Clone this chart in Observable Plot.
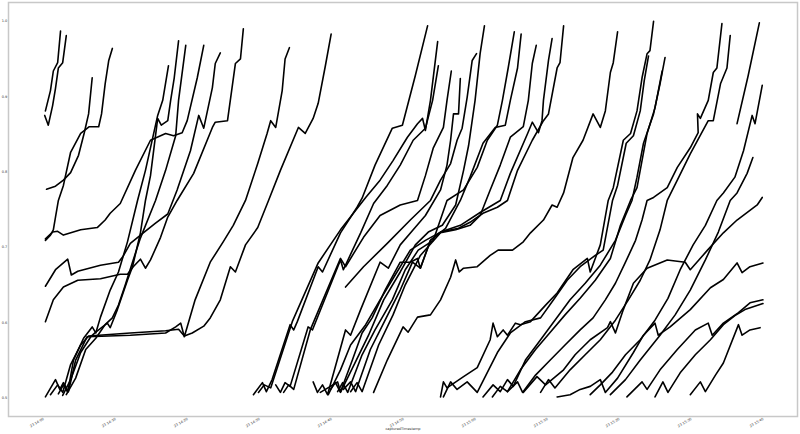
<!DOCTYPE html>
<html><head><meta charset="utf-8">
<script src="https://cdn.jsdelivr.net/npm/d3@7"></script>
<script src="https://cdn.jsdelivr.net/npm/@observablehq/plot@0.6"></script>
<style>body{margin:0;background:#fff}#chart svg{display:block}</style>
</head><body><div id="chart"></div>
<script>
const yTicks = [0.5, 0.6, 0.7, 0.8, 0.9, 1.0];
const xTicks = [0, 10, 20, 30, 40, 50, 60, 70, 80, 90, 100];
const xTickLabels = ["23 14:00","23 14:10","23 14:20","23 14:30","23 14:40","23 14:50","23 15:00","23 15:10","23 15:20","23 15:30","23 15:40"];
const xTitle = "capturedTimestamp";

const s01 = [[1.1,0.881],[1.8,0.908],[2.2,0.934],[2.8,0.945],[3.2,0.987]];
const s02 = [[1.0,0.875],[1.5,0.862],[2.1,0.888],[2.5,0.911],[2.9,0.938],[3.5,0.945],[4.0,0.981]];
const s03 = [[1.25,0.777],[2.5,0.781],[3.6,0.789],[4.6,0.799],[5.7,0.822],[6.5,0.852],[7.1,0.877],[7.6,0.925]];
const s04 = [[1.1,0.709],[1.8,0.716],[2.2,0.723],[2.5,0.740],[2.9,0.762],[3.6,0.782],[4.6,0.826],[6.0,0.851],[7.2,0.860],[8.5,0.860],[8.9,0.877],[9.4,0.917],[9.9,0.948],[10.4,0.964]];
const s05 = [[1.1,0.711],[2.1,0.720],[2.8,0.721],[3.6,0.716],[6.0,0.723],[8.3,0.726],[9.4,0.736],[10.1,0.745],[11.5,0.758],[13.6,0.802],[15.7,0.842],[17.8,0.851],[18.9,0.848],[20.1,0.852],[20.8,0.868],[22.2,0.925],[23.1,0.968]];
const s06 = [[1.1,0.648],[2.5,0.670],[4.2,0.684],[4.7,0.663],[5.6,0.668],[8.75,0.676],[11.25,0.680],[11.9,0.688],[12.9,0.705],[14.7,0.719],[16.4,0.732],[18.1,0.744],[19.4,0.776],[21.25,0.828],[22.4,0.875],[23.1,0.858],[24.3,0.912],[24.7,0.944],[25.4,0.958]];
const s07 = [[1.1,0.601],[2.2,0.630],[3.6,0.647],[5.6,0.656],[8.75,0.658],[11.5,0.664],[12.5,0.664],[13.3,0.674],[14.3,0.684],[15.0,0.672],[15.7,0.683],[17.1,0.713],[18.1,0.740],[19.4,0.762],[21.7,0.798],[24.3,0.859],[24.7,0.866],[26.4,0.868],[27.5,0.944],[28.2,0.950],[28.6,0.990]];
const s08 = [[1.1,0.501],[2.5,0.524],[3.1,0.511],[3.6,0.520],[4.3,0.508],[5.3,0.550],[6.9,0.581],[12.9,0.583],[17.8,0.586],[19.2,0.594],[19.9,0.599],[20.4,0.581],[21.9,0.630],[24.0,0.680],[25.8,0.707],[27.2,0.729],[28.9,0.762],[30.6,0.811],[31.9,0.851],[32.4,0.868],[33.1,0.859],[34.0,0.908],[34.4,0.950],[35.0,0.965]];
const s09 = [[1.8,0.504],[2.8,0.517],[3.5,0.507],[4.6,0.544],[6.0,0.570],[7.1,0.582],[12.9,0.586],[17.8,0.589],[19.6,0.591],[20.4,0.582],[21.5,0.586],[23.1,0.595],[24.0,0.606],[25.4,0.630],[26.8,0.674],[27.5,0.667],[28.9,0.703],[30.6,0.726],[32.1,0.762],[33.75,0.802],[36.25,0.859],[37.2,0.851],[38.3,0.871],[39.0,0.891],[40.0,0.941],[40.8,0.983]];
const s10 = [[2.9,0.505],[3.6,0.517],[4.2,0.507],[5.0,0.550],[6.4,0.579],[7.6,0.594],[8.1,0.586],[8.75,0.607],[10.1,0.643],[11.25,0.667],[12.5,0.707],[13.9,0.762],[15.0,0.802],[16.7,0.875],[17.4,0.895],[18.2,0.941]];
const s11 = [[3.5,0.503],[4.6,0.524],[6.0,0.560],[7.4,0.581],[8.1,0.587],[9.7,0.599],[10.1,0.593],[11.1,0.617],[12.5,0.656],[13.2,0.674],[14.3,0.719],[15.0,0.762],[15.7,0.795],[16.7,0.871],[17.2,0.862],[18.1,0.868],[18.5,0.895],[19.0,0.925],[19.6,0.974]];
const s12 = [[4.0,0.504],[5.3,0.526],[6.7,0.564],[8.1,0.579],[9.4,0.597],[10.4,0.606],[11.25,0.623],[12.2,0.650],[13.3,0.683],[14.3,0.712],[16.4,0.762],[17.8,0.802],[19.2,0.848],[19.6,0.895],[20.6,0.968]];
const s13 = [[30.0,0.504],[31.25,0.520],[31.8,0.508],[32.6,0.524],[35.1,0.597],[35.6,0.590],[36.1,0.601],[39.0,0.674],[39.6,0.667],[42.1,0.719],[44.4,0.753],[45.1,0.765],[46.9,0.809],[49.3,0.858],[50.7,0.862],[52.5,0.928],[54.2,0.994]];
const s14 = [[30.7,0.507],[31.5,0.517],[32.4,0.513],[35.4,0.601],[39.0,0.679],[42.1,0.723],[45.6,0.766],[47.6,0.789],[49.4,0.815],[51.4,0.846],[52.8,0.864],[53.5,0.871],[53.9,0.855],[54.6,0.895],[55.6,0.973]];
const s15 = [[33.1,0.517],[33.75,0.507],[34.4,0.520],[35.1,0.515],[37.6,0.594],[38.2,0.590],[42.1,0.683],[42.5,0.670],[44.9,0.719],[46.7,0.758],[48.6,0.782],[50.4,0.809],[52.2,0.842],[53.9,0.858],[54.9,0.895],[55.7,0.941]];
const s16 = [[34.2,0.507],[34.9,0.517],[35.6,0.511],[37.9,0.590],[42.1,0.685],[42.8,0.674],[45.3,0.713],[47.6,0.742],[50.4,0.756],[52.8,0.762],[53.9,0.795],[55.0,0.832],[56.4,0.859],[56.9,0.895],[57.5,0.934]];
const s17 = [[38.3,0.521],[38.9,0.507],[39.6,0.517],[40.3,0.504],[42.8,0.590],[43.5,0.583],[44.9,0.617],[47.6,0.680],[48.75,0.672],[50.4,0.703],[52.2,0.723],[53.9,0.742],[56.0,0.776],[56.9,0.809],[57.4,0.842],[57.8,0.877],[58.5,0.877],[58.75,0.924]];
const s18 = [[39.3,0.507],[40.7,0.515],[41.7,0.521],[42.1,0.508],[43.75,0.550],[45.1,0.586],[46.5,0.606],[48.3,0.643],[50.4,0.680],[51.8,0.680],[52.8,0.685],[53.2,0.672],[54.6,0.709],[56.0,0.720],[58.5,0.725],[60.1,0.733],[61.9,0.745],[63.9,0.753],[65.3,0.762],[66.7,0.802],[68.75,0.842],[70.3,0.868],[71.0,0.877],[72.2,0.938],[72.6,0.945],[73.1,0.994]];
const s19 = [[40.7,0.511],[41.4,0.520],[42.1,0.507],[44.2,0.548],[46.0,0.583],[48.1,0.630],[50.4,0.667],[52.5,0.703],[54.3,0.720],[56.25,0.729],[58.1,0.756],[59.2,0.802],[59.9,0.835],[60.8,0.895],[61.5,0.957],[62.1,0.994]];
const s20 = [[41.7,0.508],[42.4,0.520],[43.1,0.507],[45.1,0.557],[46.9,0.590],[49.3,0.630],[51.1,0.670],[52.9,0.696],[55.0,0.709],[56.9,0.762],[59.2,0.776],[61.1,0.806],[62.5,0.842],[63.9,0.862],[64.6,0.895],[65.4,0.938],[66.25,0.986]];
const s21 = [[42.5,0.511],[43.5,0.521],[44.2,0.508],[46.25,0.564],[48.3,0.603],[50.4,0.643],[52.1,0.680],[53.2,0.672],[54.6,0.709],[56.7,0.725],[58.75,0.762],[60.1,0.793],[61.9,0.838],[63.6,0.859],[65.0,0.862],[65.7,0.895],[66.7,0.938],[67.2,0.983]];
const s22 = [[43.5,0.508],[44.4,0.520],[45.1,0.508],[47.4,0.570],[49.4,0.610],[51.1,0.650],[53.2,0.689],[56.0,0.719],[58.1,0.723],[60.1,0.729],[61.5,0.742],[62.9,0.776],[64.3,0.809],[65.7,0.846],[67.5,0.860],[68.2,0.895],[68.75,0.944],[69.3,0.968]];
const s23 = [[40.4,0.504],[42.1,0.537],[43.5,0.570],[45.6,0.597],[47.6,0.630],[49.7,0.663],[51.8,0.696],[53.9,0.709],[56.0,0.720],[58.75,0.729],[61.5,0.746],[64.3,0.762],[65.7,0.798],[68.1,0.851],[68.75,0.866],[69.6,0.852],[70.1,0.868],[70.3,0.895],[71.0,0.948],[71.5,0.977]];
const s24 = [[42.8,0.647],[45.3,0.674],[48.6,0.705],[51.8,0.736],[54.6,0.762],[56.0,0.789],[57.4,0.811],[58.3,0.842],[59.0,0.858],[59.7,0.899],[60.4,0.948],[61.0,0.957]];
const s25 = [[46.7,0.507],[48.6,0.550],[50.8,0.594],[51.5,0.587],[52.8,0.607],[54.6,0.610],[56.0,0.630],[57.4,0.660],[58.1,0.683],[58.6,0.667],[59.2,0.672],[61.1,0.674],[62.9,0.689],[64.0,0.696],[66.0,0.696],[67.5,0.707],[68.5,0.719],[70.3,0.736],[71.5,0.756],[72.2,0.753],[73.1,0.772],[74.4,0.819],[75.8,0.842],[77.2,0.877],[78.2,0.859],[78.9,0.881],[79.6,0.932],[80.0,0.945],[80.6,0.986]];
const s26 = [[56.0,0.501],[56.4,0.521],[56.9,0.513],[59.2,0.528],[61.1,0.540],[62.9,0.577],[63.3,0.599],[63.9,0.581],[64.7,0.590],[65.3,0.583],[66.4,0.599],[67.1,0.597],[68.5,0.601],[70.6,0.623],[72.2,0.639],[74.4,0.670],[76.4,0.685],[76.8,0.667],[78.2,0.703],[79.3,0.762],[80.0,0.779],[81.4,0.842],[82.4,0.851],[83.3,0.881],[84.0,0.925],[84.7,0.957],[85.1,0.961],[85.6,1.0]];
const s27 = [[56.4,0.501],[57.4,0.521],[58.3,0.511],[59.7,0.521],[61.1,0.507],[63.9,0.560],[65.7,0.586],[67.8,0.601],[69.9,0.606],[71.7,0.630],[73.6,0.656],[75.4,0.674],[77.5,0.689],[78.6,0.696],[79.9,0.762],[80.6,0.782],[81.8,0.838],[82.8,0.848],[83.75,0.881],[84.3,0.921],[84.9,0.954]];
const s28 = [[61.9,0.501],[63.3,0.517],[64.3,0.508],[65.3,0.524],[66.1,0.515],[67.8,0.550],[69.9,0.577],[71.9,0.603],[74.0,0.630],[76.1,0.652],[78.2,0.676],[80.3,0.709],[81.7,0.742],[82.6,0.762],[83.3,0.793],[84.2,0.838],[85.6,0.877],[86.5,0.917],[87.2,0.952]];
const s29 = [[63.2,0.501],[64.3,0.515],[65.3,0.508],[67.1,0.537],[69.2,0.564],[71.25,0.587],[73.3,0.610],[75.4,0.632],[77.5,0.656],[79.6,0.685],[81.0,0.729],[82.4,0.762],[83.3,0.779],[84.7,0.851],[85.8,0.885],[86.8,0.934]];
const s30 = [[65.3,0.508],[66.7,0.521],[67.4,0.507],[69.2,0.530],[71.25,0.550],[73.3,0.570],[75.4,0.590],[77.2,0.606],[78.9,0.630],[80.3,0.652],[81.7,0.680],[83.1,0.709],[84.0,0.736],[84.7,0.762],[85.6,0.766],[87.5,0.779],[88.9,0.806],[90.7,0.832],[91.8,0.852],[91.7,0.877],[92.1,0.871],[93.2,0.895],[93.9,0.932],[94.4,0.938],[95.1,0.997]];
const s31 = [[69.9,0.507],[71.0,0.524],[71.9,0.513],[74.0,0.537],[76.1,0.557],[78.2,0.577],[80.3,0.603],[82.1,0.630],[83.75,0.656],[85.1,0.683],[86.5,0.723],[87.5,0.762],[88.9,0.789],[90.7,0.824],[93.2,0.868],[93.9,0.868],[94.9,0.917],[95.8,0.938],[96.25,0.981]];
const s32 = [[97.2,0.864],[98.75,0.928],[100.3,0.998]];
const s33 = [[76.8,0.504],[78.2,0.517],[79.9,0.534],[81.7,0.557],[83.75,0.577],[85.8,0.603],[87.6,0.632],[89.3,0.670],[91.1,0.703],[92.8,0.729],[94.4,0.762],[95.3,0.772],[96.9,0.793],[98.1,0.828],[99.3,0.875],[99.7,0.864],[100.7,0.915]];
const s34 = [[79.6,0.504],[81.7,0.524],[83.75,0.550],[86.5,0.583],[88.6,0.610],[90.7,0.643],[92.8,0.683],[94.6,0.720],[96.25,0.762],[97.2,0.772],[98.6,0.798],[99.4,0.819]];
const s35 = [[67.5,0.507],[69.4,0.528],[70.6,0.517],[73.1,0.537],[74.7,0.557],[76.8,0.577],[79.2,0.593],[79.6,0.601],[80.3,0.586],[81.4,0.617],[82.8,0.652],[84.7,0.672],[87.5,0.683],[90.0,0.680],[90.7,0.670],[93.1,0.696],[95.3,0.719],[97.2,0.736],[100.0,0.756],[100.7,0.766]];
const s36 = [[72.2,0.501],[74.0,0.504],[75.4,0.511],[76.8,0.515],[78.2,0.524],[78.9,0.507],[80.6,0.526],[82.8,0.560],[84.2,0.583],[85.8,0.599],[86.25,0.583],[87.9,0.594],[90.7,0.617],[93.5,0.646],[95.3,0.657],[97.2,0.679],[97.9,0.666],[99.0,0.674],[100.8,0.679]];
const s37 = [[81.9,0.501],[84.0,0.521],[84.7,0.511],[86.5,0.537],[88.9,0.564],[91.4,0.590],[93.2,0.599],[93.75,0.583],[95.3,0.599],[97.4,0.613],[99.0,0.626],[100.8,0.630]];
const s38 = [[85.8,0.501],[86.9,0.521],[87.6,0.507],[89.3,0.533],[91.4,0.557],[93.5,0.577],[95.3,0.597],[96.9,0.609],[98.3,0.617],[100.8,0.625]];
const s39 = [[90.7,0.504],[92.1,0.521],[92.8,0.508],[94.2,0.530],[95.3,0.546],[97.4,0.597],[97.9,0.583],[99.0,0.590],[100.4,0.593]];

const allSeries = [s01,s02,s03,s04,s05,s06,s07,s08,s09,s10,s11,s12,s13,s14,s15,s16,s17,s18,s19,s20,s21,s22,s23,s24,s25,s26,s27,s28,s29,s30,s31,s32,s33,s34,s35,s36,s37,s38,s39];
const rows = allSeries.flatMap((s, i) => s.map(([x, y]) => ({id: i, x, y})));

const chart = Plot.plot({
  width: 800, height: 434,
  marginLeft: 8, marginRight: 3, marginTop: 2, marginBottom: 18,
  style: {fontFamily: "DejaVu Sans", background: "#fff"},
  x: {domain: [-4.03, 105.6], axis: null},
  y: {domain: [0.475, 1.025], axis: null},
  marks: [
    Plot.frame({stroke: "#c8c8c8", strokeWidth: 1.5}),
    Plot.line(rows, {x: "x", y: "y", z: "id", stroke: "#000", strokeWidth: 1.6}),
    Plot.text(yTicks, {y: d => d, text: d => d.toFixed(1), frameAnchor: "left", dx: -4, textAnchor: "middle", fontSize: 3.5, fill: "#333"}),
    Plot.text(xTicks, {x: d => d, text: (d, i) => xTickLabels[i], frameAnchor: "bottom", dy: 7, rotate: -30, fontSize: 3.5, fill: "#333"}),
    Plot.text([xTitle], {frameAnchor: "bottom", dy: 13, fontSize: 3.5, fill: "#333"})
  ]
});
document.getElementById("chart").append(chart);
</script>
</body></html>
